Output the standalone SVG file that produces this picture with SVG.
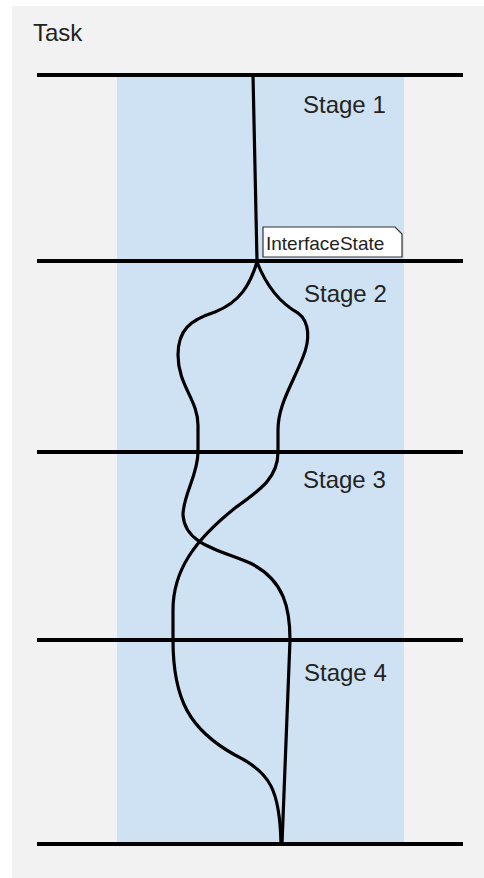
<svg xmlns="http://www.w3.org/2000/svg" width="484" height="878" viewBox="0 0 484 878">
  <style>
    .label { font-family: "Liberation Sans", Arial, sans-serif; font-size: 24px; fill: #222; }
    .stage { stroke: #000; stroke-width: 4; }
    .flow { fill: none; stroke: #000; stroke-width: 3.2; stroke-linecap: round; }
    .tag { fill: #fff; stroke: #333; stroke-width: 1.2; }
    .tagtext { font-family: "Liberation Sans", Arial, sans-serif; font-size: 19px; fill: #222; }
  </style>
  <rect x="0" y="0" width="484" height="878" fill="#ffffff"/>
  <rect x="12" y="6" width="472" height="872" fill="#f2f2f2"/>
  <rect x="117" y="75" width="287" height="767" fill="#cfe2f3"/>

  <g id="task-title">
    <text class="label" x="33" y="41" font-size="22.5">Task</text>
  </g>

  <g id="stage-boundaries">
    <line class="stage" x1="37" y1="75" x2="463" y2="75"/>
    <line class="stage" x1="37" y1="261" x2="463" y2="261"/>
    <line class="stage" x1="37" y1="452" x2="463" y2="452"/>
    <line class="stage" x1="37" y1="640" x2="463" y2="640"/>
    <line class="stage" x1="37" y1="844" x2="463" y2="844"/>
  </g>

  <g id="stage-labels">
    <text class="label" x="303" y="113" font-size="22">Stage 1</text>
    <text class="label" x="304" y="302">Stage 2</text>
    <text class="label" x="303" y="488">Stage 3</text>
    <text class="label" x="304" y="681">Stage 4</text>
  </g>

  <g id="connectors">
    <!-- stage 1: single thread -->
    <path class="flow" d="M253,75 L257,261"/>
    <!-- stage 2: split into two threads -->
    <path class="flow" d="M257,262 C250,285 240,302 215,312 C190,320 178,330 178,355 C178,385 198,400 198,425 L198,452"/>
    <path class="flow" d="M257,262 C266,285 280,303 298,313 C310,322 310,340 303,357 C292,385 278,405 278,430 L278,452"/>
    <!-- stage 3: threads cross -->
    <path class="flow" d="M198,452 C198,475 183,495 183,515 C185,545 220,550 250,563 C285,580 290,610 290,640"/>
    <path class="flow" d="M278,452 C278,478 260,490 235,508 C195,540 173,570 173,610 L173,640"/>
    <!-- stage 4: threads join -->
    <path class="flow" d="M173,640 C173,700 190,730 235,755 C270,772 280,790 281,844"/>
    <path class="flow" d="M290,640 L282,844"/>
  </g>

  <g id="interface-state">
    <path class="tag" d="M263,227 L395,227 L402,234 L402,257 L263,257 Z"/>
    <text class="tagtext" x="266" y="250">InterfaceState</text>
  </g>
</svg>
